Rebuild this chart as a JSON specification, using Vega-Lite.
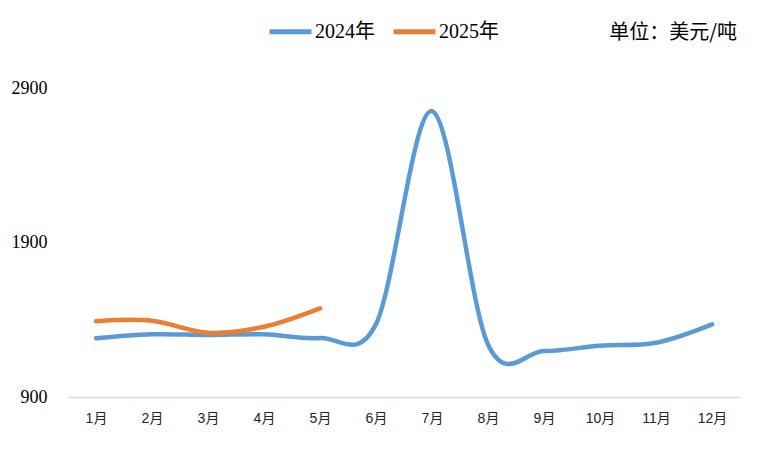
{
  "$schema": "https://vega.github.io/schema/vega-lite/v6.json",
  "width": 672,
  "height": 309,
  "autosize": "none",
  "padding": {"left": 68, "top": 88, "right": 24, "bottom": 65},
  "background": "white",
  "title": {
    "text": "单位：美元/吨",
    "orient": "top",
    "anchor": "end",
    "offset": 17,
    "dy": 52,
    "dx": -3,
    "font": "'Noto Sans CJK SC'",
    "fontSize": 20,
    "fontWeight": "normal",
    "color": "#000000"
  },
  "data": {
    "values": [
      {"month": "1月", "year": "2024年", "price": 1280},
      {"month": "2月", "year": "2024年", "price": 1306},
      {"month": "3月", "year": "2024年", "price": 1301},
      {"month": "4月", "year": "2024年", "price": 1306},
      {"month": "5月", "year": "2024年", "price": 1282},
      {"month": "6月", "year": "2024年", "price": 1372},
      {"month": "7月", "year": "2024年", "price": 2750},
      {"month": "8月", "year": "2024年", "price": 1240},
      {"month": "9月", "year": "2024年", "price": 1198},
      {"month": "10月", "year": "2024年", "price": 1232},
      {"month": "11月", "year": "2024年", "price": 1251},
      {"month": "12月", "year": "2024年", "price": 1370},
      {"month": "1月", "year": "2025年", "price": 1390},
      {"month": "2月", "year": "2025年", "price": 1394},
      {"month": "3月", "year": "2025年", "price": 1316},
      {"month": "4月", "year": "2025年", "price": 1355},
      {"month": "5月", "year": "2025年", "price": 1474}
    ]
  },
  "mark": {"type": "line", "interpolate": "cardinal", "strokeWidth": 4.5, "strokeCap": "round", "strokeJoin": "round"},
  "encoding": {
    "x": {
      "field": "month",
      "type": "ordinal",
      "sort": ["1月", "2月", "3月", "4月", "5月", "6月", "7月", "8月", "9月", "10月", "11月", "12月"],
      "scale": {"type": "point", "padding": 0.5},
      "axis": {
        "title": null,
        "labelAngle": 0,
        "ticks": false,
        "grid": false,
        "domainColor": "#d9d9d9",
        "domainWidth": 1.5,
        "labelFont": "'Liberation Sans', 'Noto Sans CJK SC'",
        "labelFontSize": 14,
        "labelColor": "#262626",
        "labelPadding": 14
      }
    },
    "y": {
      "field": "price",
      "type": "quantitative",
      "scale": {"domain": [900, 2900], "nice": false, "zero": false},
      "axis": {
        "title": null,
        "values": [900, 1900, 2900],
        "format": "d",
        "domain": false,
        "ticks": false,
        "grid": false,
        "labelFont": "'Liberation Serif'",
        "labelFontSize": 18,
        "labelColor": "#000000",
        "labelPadding": 21
      }
    },
    "color": {
      "field": "year",
      "type": "nominal",
      "scale": {"domain": ["2024年", "2025年"], "range": ["#5b9bd5", "#ed7d31"]},
      "legend": {
        "title": null,
        "orient": "none",
        "direction": "horizontal",
        "legendX": 199,
        "legendY": -80,
        "symbolType": "stroke",
        "symbolSize": 1764,
        "symbolStrokeWidth": 5,
        "labelFont": "'Liberation Serif', 'Noto Sans CJK SC'",
        "labelFontSize": 20,
        "labelColor": "#000000",
        "labelOffset": 1,
        "columnPadding": 8,
        "labelLimit": 200
      }
    }
  },
  "config": {"view": {"stroke": null}}
}
